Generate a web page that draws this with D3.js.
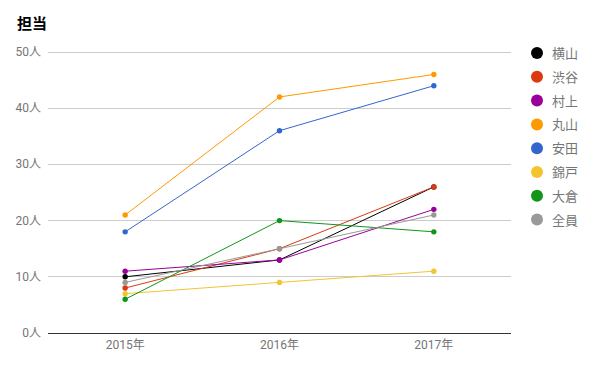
<!DOCTYPE html>
<html><head><meta charset="utf-8">
<script src="https://cdn.jsdelivr.net/npm/d3@7"></script>
<style>body{margin:0;background:#fff}svg{display:block;font-family:Roboto,"Noto Sans CJK JP",sans-serif}</style>
</head><body>
<svg id="c" width="596" height="369"></svg>
<script>
const years = ["2015年","2016年","2017年"];
const seriesNames = ["横山","渋谷","村上","丸山","安田","錦戸","大倉","全員"];
const colors = ["#000000","#dc3912","#990099","#ff9900","#3366cc","#f4c430","#109618","#999999"];
const yokoyama = [10,13,26];
const shibutani = [8,15,26];
const murakami = [11,13,22];
const maruyama = [21,42,46];
const yasuda = [18,36,44];
const nishikido = [7,9,11];
const okura = [6,20,18];
const zenin = [9,15,21];
const yTicks = [0,10,20,30,40,50];
const values = [yokoyama,shibutani,murakami,maruyama,yasuda,nishikido,okura,zenin];

const svg = d3.select("#c");
const x = d3.scaleBand().domain(years).range([48,511]).padding(0);
const y = d3.scaleLinear().domain([0,50]).range([333,52]);

svg.append("text").attr("x",17).attr("y",29).attr("font-size",15).attr("font-weight","bold")
  .attr("fill","#000").text("担当");

svg.append("g").selectAll("line").data(yTicks.filter(d=>d>0)).join("line")
  .attr("x1",48).attr("x2",511).attr("y1",d=>y(d)).attr("y2",d=>y(d))
  .attr("stroke","#cccccc").attr("stroke-width",1).attr("shape-rendering","crispEdges");
svg.append("line").attr("x1",48).attr("x2",511).attr("y1",y(0)).attr("y2",y(0))
  .attr("stroke","#333").attr("stroke-width",1).attr("shape-rendering","crispEdges");

svg.append("g").selectAll("text").data(yTicks).join("text")
  .attr("x",41).attr("y",d=>y(d)+4).attr("text-anchor","end")
  .attr("font-size",12).attr("fill","#757575").text(d=>d+"人");

svg.append("g").selectAll("text").data(years).join("text")
  .attr("x",d=>x(d)+x.bandwidth()/2).attr("y",349).attr("text-anchor","middle")
  .attr("font-size",12).attr("fill","#757575").text(d=>d);

const line = d3.line().x((d,i)=>x(years[i])+x.bandwidth()/2).y(d=>y(d));
const order = [0,1,2,3,4,5,6,7];
order.forEach(k=>{
  svg.append("path").attr("d",line(values[k])).attr("fill","none")
    .attr("stroke",colors[k]).attr("stroke-width",1);
});
order.forEach(k=>{
  svg.append("g").selectAll("circle").data(values[k]).join("circle")
    .attr("cx",(d,i)=>x(years[i])+x.bandwidth()/2).attr("cy",d=>y(d)).attr("r",2.7)
    .attr("fill",colors[k]);
});

const lg = svg.append("g").selectAll("g").data(seriesNames).join("g")
  .attr("transform",(d,i)=>`translate(537,${53+i*23.8})`);
lg.append("circle").attr("r",6).attr("fill",(d,i)=>colors[i]);
lg.append("text").attr("x",15).attr("y",5).attr("font-size",13).attr("fill","#757575").text(d=>d);
</script>
</body></html>
